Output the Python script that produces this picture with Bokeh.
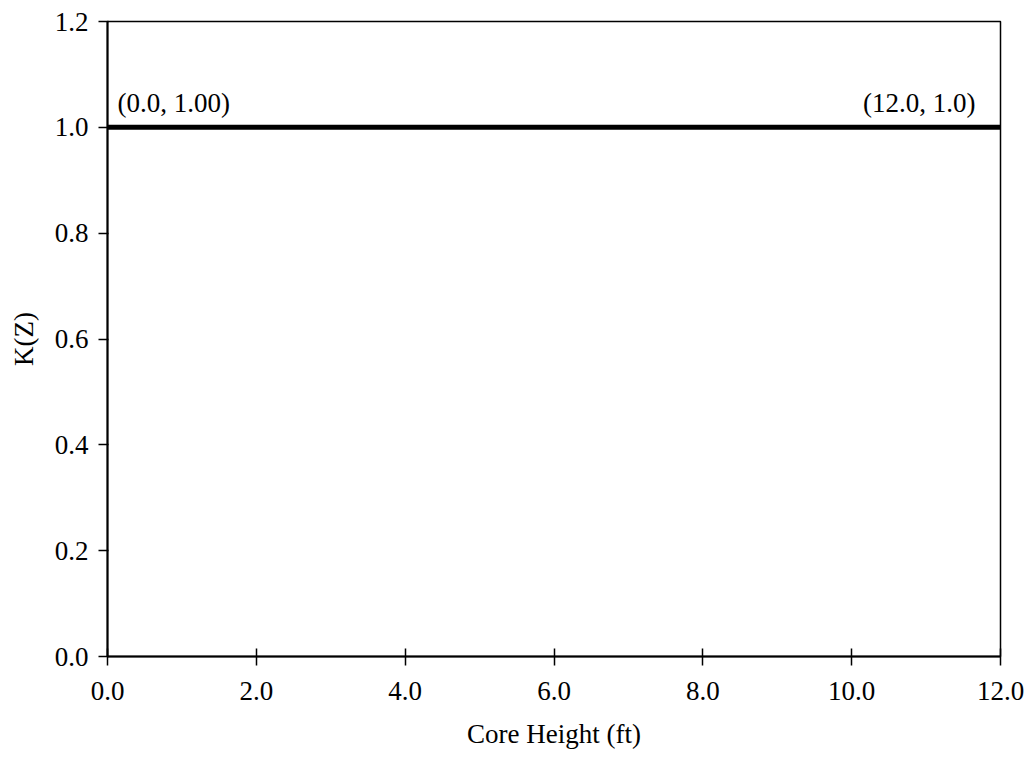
from bokeh.plotting import figure
from bokeh.models import ColumnDataSource, FixedTicker, Range1d, CustomJSTickFormatter
from bokeh.core.properties import value
from bokeh.embed import file_html
from bokeh.resources import INLINE

core_height = [0.0, 12.0]
kz = [1.0, 1.0]
point_labels = ["(0.0, 1.00)", "(12.0, 1.0)"]
x_ticks = [0, 2, 4, 6, 8, 10, 12]
y_ticks = [0.0, 0.2, 0.4, 0.6, 0.8, 1.0, 1.2]

FONT = "Liberation Serif"

p = figure(width=1031, height=761, output_backend="svg", toolbar_location=None,
           x_range=Range1d(0, 12), y_range=Range1d(0, 1.2))
p.min_border_left = 107
p.min_border_right = 31
p.min_border_top = 21
p.min_border_bottom = 105
p.background_fill_color = "white"
p.border_fill_color = "white"
p.outline_line_color = "black"
p.outline_line_width = 1.5
p.grid.visible = False

p.line(core_height, kz, line_color="black", line_width=5)

src = ColumnDataSource(dict(x=core_height, y=kz, t=point_labels,
                            align=["left", "right"],
                            xo=[10, -25], yo=[-9, -9]))
p.text(x="x", y="y", text="t", source=src, text_align="align",
       text_baseline="bottom", x_offset="xo", y_offset="yo",
       text_font=value(FONT), text_font_size="27px", text_color="black")

fmt = CustomJSTickFormatter(code="return tick.toFixed(1);")
for ax in (p.xaxis[0], p.yaxis[0]):
    ax.formatter = fmt
    ax.major_label_text_font = FONT
    ax.major_label_text_font_size = "27px"
    ax.major_label_text_color = "black"
    ax.axis_label_text_font = FONT
    ax.axis_label_text_font_size = "27px"
    ax.axis_label_text_font_style = "normal"
    ax.axis_label_text_color = "black"
    ax.axis_line_color = "black"
    ax.axis_line_width = 2
    ax.major_tick_line_color = "black"
    ax.major_tick_line_width = 1.5
    ax.minor_tick_line_color = None

p.xaxis.ticker = FixedTicker(ticks=x_ticks)
p.yaxis.ticker = FixedTicker(ticks=y_ticks)
p.xaxis.major_tick_in = 8
p.xaxis.major_tick_out = 9
p.yaxis.major_tick_in = 1
p.yaxis.major_tick_out = 9
p.xaxis.major_label_standoff = 16
p.yaxis.major_label_standoff = 10
p.xaxis.axis_label = "Core Height (ft)"
p.yaxis.axis_label = "K(Z)"
p.xaxis.axis_label_standoff = 16
p.yaxis.axis_label_standoff = 13

open("out.html", "w").write(file_html(p, INLINE))
